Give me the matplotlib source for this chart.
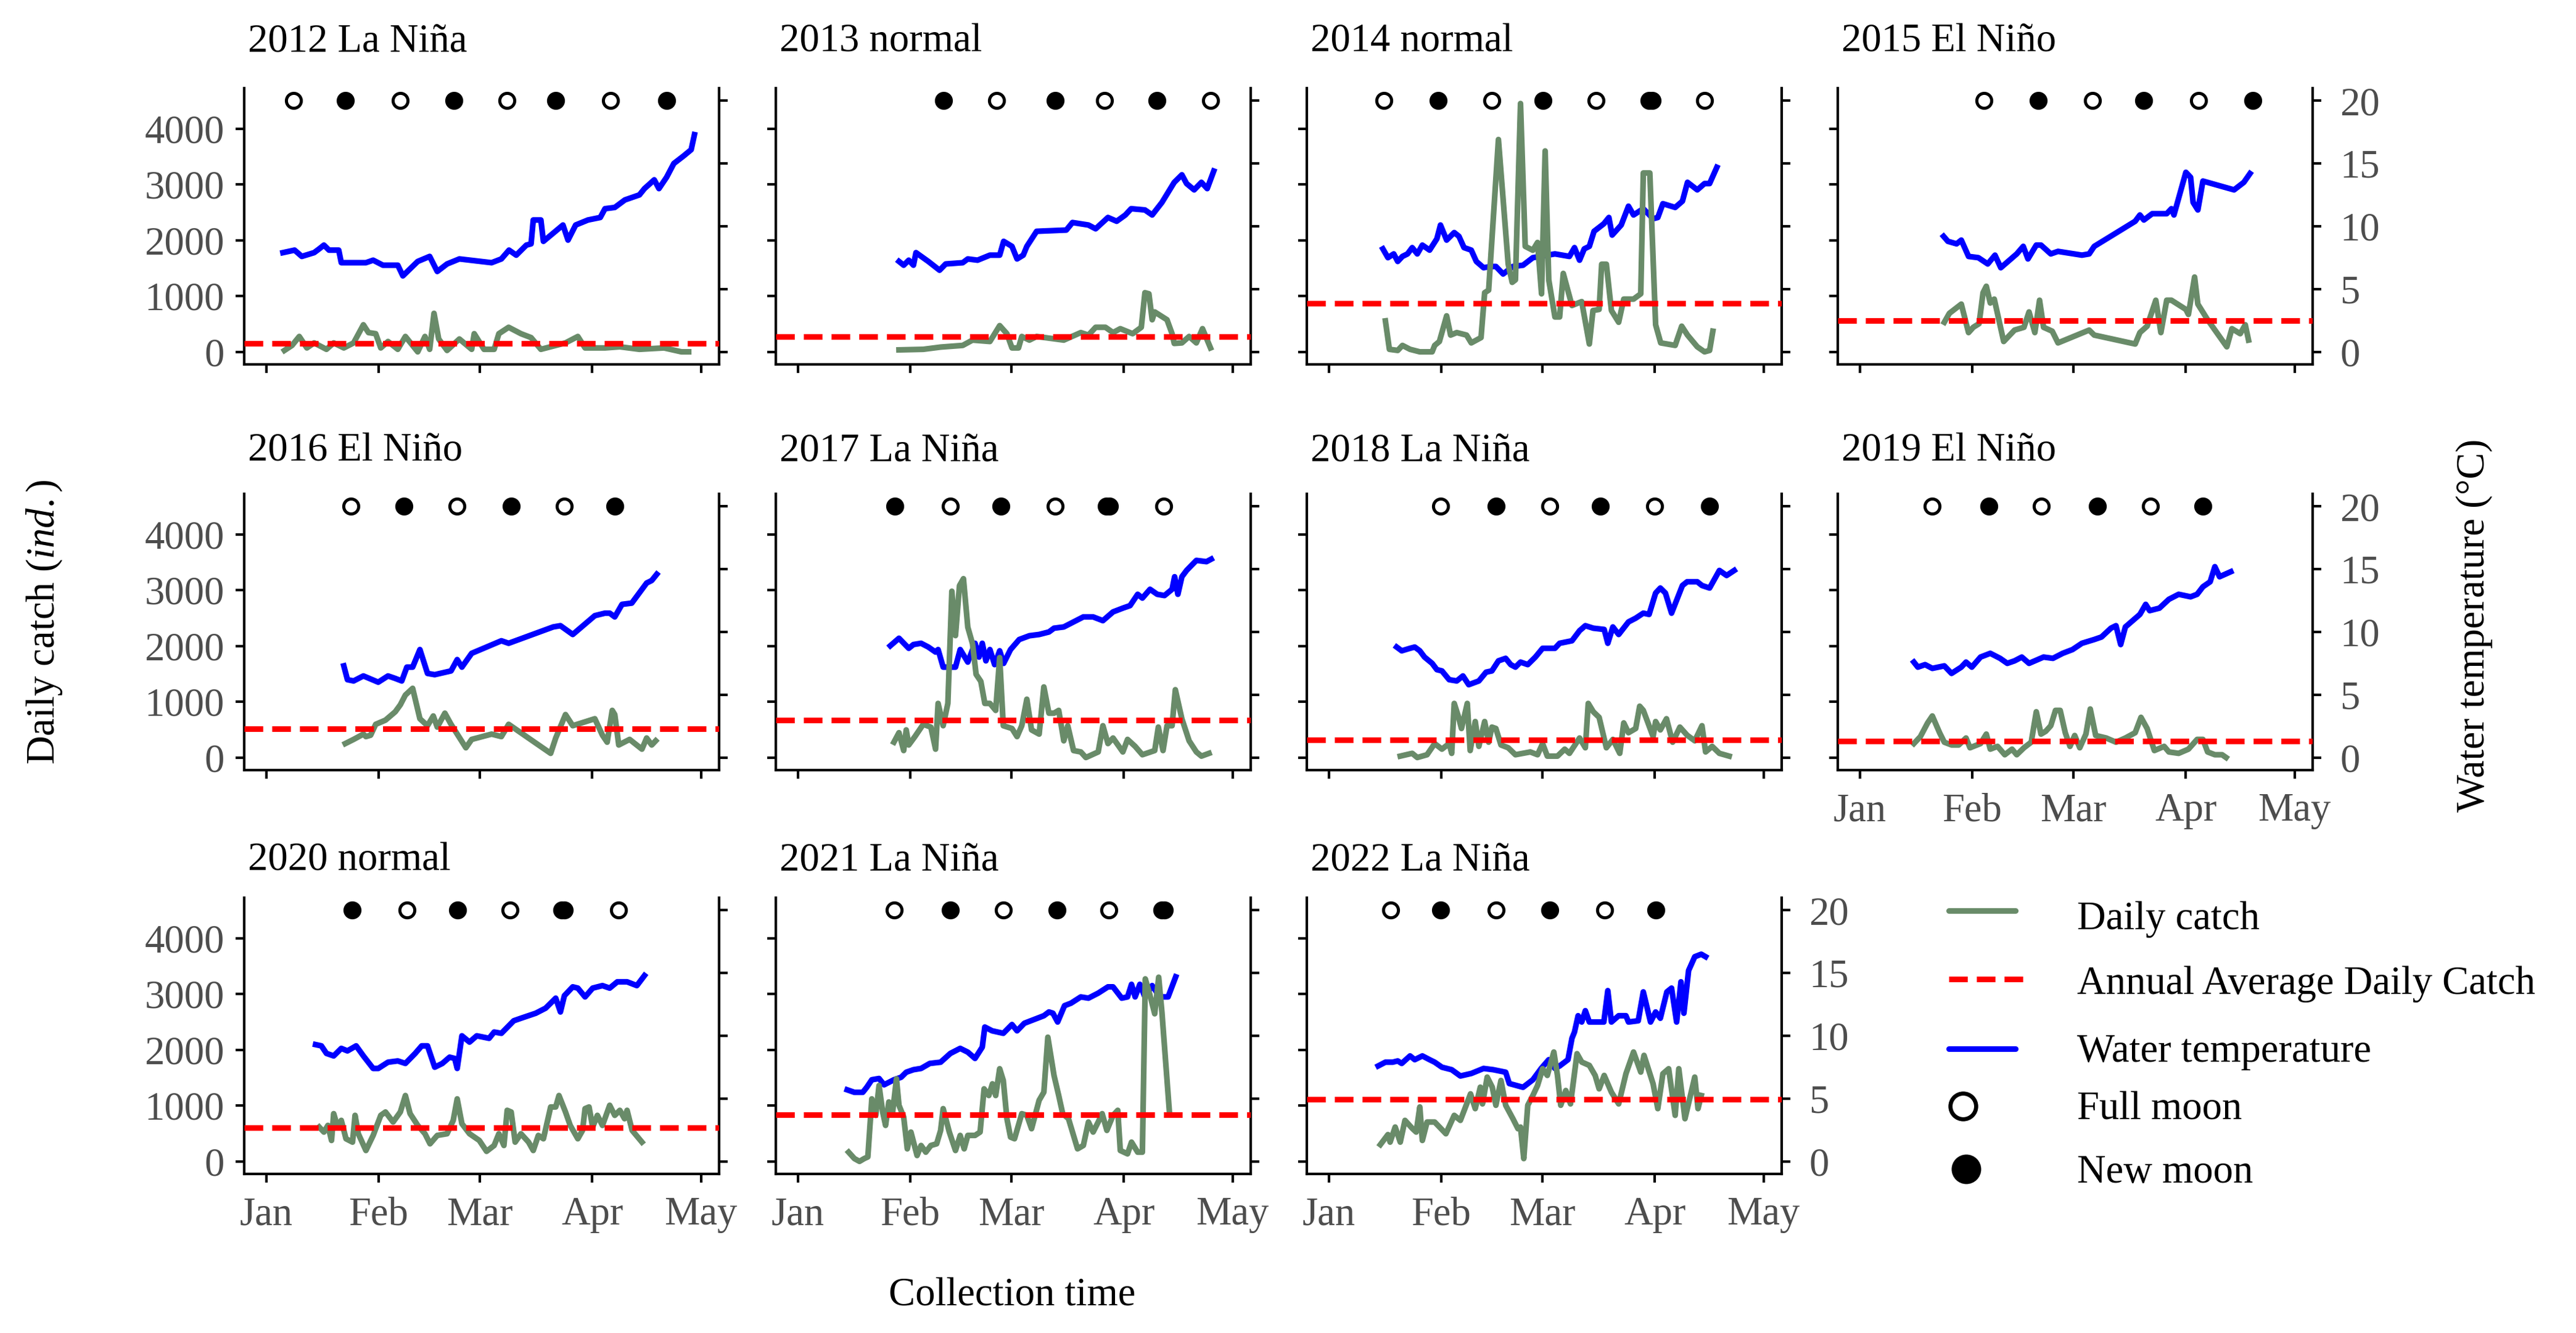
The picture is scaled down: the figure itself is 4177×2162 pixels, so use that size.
import matplotlib.pyplot as plt

plt.rcParams['font.family'] = ['Liberation Serif', 'DejaVu Serif']
plt.rcParams['mathtext.fontset'] = 'custom'
plt.rcParams['mathtext.rm'] = 'Liberation Serif'
plt.rcParams['mathtext.it'] = 'Liberation Serif:italic'

# ---- data (x = day counted from Jan 1, temperature in degC, catch in individuals) ----
years = [2012, 2013, 2014, 2015, 2016, 2017, 2018, 2019, 2020, 2021, 2022]
enso = ['La Niña', 'normal', 'normal', 'El Niño', 'El Niño', 'La Niña',
        'La Niña', 'El Niño', 'normal', 'La Niña', 'La Niña']
month_pos = [0, 31, 59, 90, 120]
month_lab = ['Jan', 'Feb', 'Mar', 'Apr', 'May']

temp_2012 = [(4.6, 7.9), (7.8, 8.1), (9.8, 7.6), (13.2, 7.9), (14.6, 8.2), (15.9, 8.5), (17.3, 8.1), (20, 8.1),
             (20.7, 7.1), (27.5, 7.1), (29.5, 7.3), (32.2, 6.9), (36.3, 6.9), (37.7, 6.05), (41.8, 7.2),
             (45.1, 7.6), (47.2, 6.4), (49.9, 7.0), (53.3, 7.4), (62.2, 7.1), (64.9, 7.4), (67, 8.1), (69, 7.7),
             (71.8, 8.5), (73.1, 8.6), (73.7, 10.5), (75.8, 10.5), (76.5, 8.8), (81.9, 10.1), (83.3, 8.9),
             (85.4, 10.1), (88.8, 10.5), (92.2, 10.7), (93.5, 11.4), (96.2, 11.5), (99, 12.1), (103, 12.5),
             (104.4, 13.0), (107.1, 13.7), (108.4, 13.0), (110.5, 13.9), (112.5, 15.0), (115.2, 15.6),
             (117.3, 16.1), (118.2, 17.3)]
catch_2012 = [(5, 25), (7.1, 115), (9.1, 275), (11.2, 70), (13.2, 160), (16.6, 45), (18.6, 160), (21.4, 70),
              (24.1, 160), (26.8, 485), (28.2, 345), (30.2, 325), (31.6, 70), (33.6, 185), (36.3, 45),
              (38.4, 275), (41.8, 0), (43.8, 275), (45.1, 45), (46.3, 690), (47.6, 230), (49.9, 25), (53.3, 230),
              (56.7, 45), (57.4, 325), (60.1, 45), (62.9, 45), (64.2, 325), (66.9, 440), (70.3, 325), (73.1, 255),
              (75.8, 45), (82.6, 160), (86, 275), (88, 70), (93.5, 70), (97.6, 90), (103, 45), (109.8, 70),
              (114.6, 0), (116.6, 0)]

temp_2013 = [(27.9, 7.2), (29.2, 6.9), (30.6, 7.3), (31.9, 6.9), (32.6, 7.9), (36, 7.2), (39.1, 6.5), (40.8, 7.0),
             (45.5, 7.1), (46.9, 7.4), (49.6, 7.3), (53, 7.7), (55.7, 7.7), (56.8, 8.8), (59.1, 8.4), (60.5, 7.4),
             (62.2, 7.7), (63.2, 8.4), (65.9, 9.6), (74.1, 9.7), (75.8, 10.3), (80.2, 10.1), (82.2, 9.8),
             (85.6, 10.7), (88, 10.4), (90.4, 10.9), (92, 11.4), (95.8, 11.3), (97.8, 10.9), (100.5, 11.9),
             (103.9, 13.5), (106, 14.1), (107.3, 13.4), (109.4, 12.9), (111.4, 13.5), (113, 13.0), (114.8, 14.4)]
catch_2013 = [(27.9, 35), (34.6, 45), (39.4, 85), (45.5, 115), (48.2, 210), (53, 185), (55.7, 470), (57.7, 325),
              (59.1, 70), (60.9, 70), (61.8, 275), (63.9, 210), (65.9, 275), (73.4, 210), (78.1, 345), (80.2, 300),
              (82.2, 440), (84.9, 440), (87, 345), (89, 415), (92.4, 325), (94.8, 440), (95.8, 1060), (96.9, 1040),
              (97.8, 575), (98.5, 715), (101.9, 575), (103.3, 325), (103.9, 150), (106, 160), (108, 275),
              (110, 160), (111.7, 415), (113.9, 70)]

temp_2014 = [(14.9, 8.2), (16.3, 7.5), (17.9, 7.8), (19, 7.2), (20.3, 7.6), (21.7, 7.8), (23, 8.3), (24.4, 7.8),
             (25.8, 8.5), (27.8, 8.1), (29.8, 9.0), (30.8, 10.1), (32.5, 8.9), (34.6, 9.5), (35.9, 9.2),
             (37.3, 8.3), (39.3, 8.1), (40.7, 7.2), (42.7, 6.7), (44.7, 6.8), (46.1, 6.8), (48.1, 6.2),
             (50.8, 6.8), (53.6, 6.9), (56.3, 7.5), (62.4, 7.8), (66.4, 7.6), (67.8, 8.3), (69.2, 7.3),
             (70.5, 8.2), (71.9, 8.4), (73.2, 9.6), (75.9, 10.2), (77.3, 10.7), (78.2, 9.3), (80.7, 10.1),
             (82.7, 11.6), (84.1, 10.9), (86.8, 11.4), (89.5, 10.6), (90.8, 10.7), (92.2, 11.8), (95.6, 11.5),
             (97.6, 12.0), (99, 13.5), (101.7, 12.9), (103.7, 13.4), (105.1, 13.4), (107.1, 14.7)]
catch_2014 = [(15.6, 555), (16.7, 45), (19, 25), (20.3, 115), (22.4, 45), (25.1, 0), (28.5, 0), (29.2, 115),
              (30.5, 185), (32.5, 645), (33.6, 300), (35.3, 345), (38, 300), (39.3, 160), (42, 255), (43, 1060),
              (44.1, 1105), (46.8, 3805), (49.5, 1570), (50.6, 1245), (51.5, 1290), (52.9, 4450), (54.2, 1890),
              (56.3, 1820), (57.6, 1960), (58.7, 1040), (59.7, 3600), (60.7, 1290), (62.4, 625), (63.7, 625),
              (64.7, 1405), (67.1, 830), (69.8, 900), (71.9, 140), (72.9, 740), (74.6, 760), (75.3, 1570),
              (76.6, 1570), (78, 740), (80, 530), (81.4, 945), (84.1, 945), (86.1, 1040), (86.8, 3205),
              (88.6, 3205), (90.2, 485), (91.6, 160), (95.6, 115), (97.4, 460), (99, 300), (101.7, 90),
              (103.7, 0), (105.1, 25), (106, 370)]

temp_2015 = [(23.1, 9.2), (24.3, 8.8), (26.7, 8.6), (28, 8.9), (30, 7.6), (32.7, 7.5), (35.3, 7.0), (37.3, 7.7),
             (38.9, 6.7), (43.3, 7.8), (45.1, 8.4), (46.4, 7.4), (48.7, 8.5), (50, 8.5), (52.7, 7.8), (54.7, 8.0),
             (61.3, 7.7), (63.3, 7.8), (64.7, 8.4), (76, 10.4), (77.3, 10.9), (78.4, 10.5), (80.7, 11.0),
             (84.7, 11.0), (86, 11.4), (86.7, 10.9), (90, 14.3), (91.3, 13.9), (92, 11.9), (93.3, 11.3),
             (94.7, 13.6), (103.3, 12.9), (106, 13.5), (107.7, 14.2)]
catch_2015 = [(23.3, 530), (24.7, 690), (28, 855), (30, 345), (31.3, 440), (32.9, 505), (34, 1060), (34.9, 1175),
              (36, 875), (37.1, 945), (39.7, 185), (42.7, 390), (45.3, 440), (46.7, 715), (48.3, 345),
              (49.6, 925), (50.7, 440), (53.1, 370), (54.7, 160), (63.3, 390), (64.7, 300), (76, 140),
              (77.3, 345), (79.3, 460), (81.7, 925), (83.1, 345), (84.7, 925), (86, 925), (90, 760), (90.7, 670),
              (92.4, 1340), (93.3, 855), (96, 575), (101.3, 90), (102.7, 415), (105, 325), (106.4, 485),
              (107.3, 210)]

temp_2016 = [(21.4, 7.3), (22.4, 6.2), (24.1, 6.1), (26.8, 6.5), (30.9, 6.0), (33.6, 6.5), (35.6, 6.3),
             (37.4, 6.1), (38.8, 7.2), (40.4, 7.2), (42.4, 8.6), (44.5, 6.7), (46.5, 6.6), (51, 6.9), (52.7, 7.8),
             (54, 7.2), (56.7, 8.3), (64.9, 9.3), (66.9, 9.1), (79.2, 10.4), (81.2, 10.5), (84.6, 9.8),
             (90.7, 11.3), (93.5, 11.5), (94.8, 11.5), (96.2, 11.2), (98.2, 12.2), (100.9, 12.3), (105, 13.9),
             (106.4, 14.1), (107.8, 14.6)]
catch_2016 = [(21.8, 250), (24.1, 325), (26.8, 420), (27.5, 375), (28.8, 400), (30.2, 595), (32.9, 670),
              (35.6, 820), (37, 945), (38.4, 1120), (40.4, 1240), (42.4, 695), (44.5, 570), (46.1, 745),
              (47.2, 545), (49.3, 795), (51, 595), (52.9, 400), (55.1, 175), (56.7, 325), (62.2, 420),
              (64.9, 375), (66.9, 595), (78.5, 75), (79.9, 350), (82.6, 770), (84.6, 570), (90.7, 695),
              (92.8, 400), (94.1, 275), (95.5, 845), (96.2, 770), (97.3, 225), (100.3, 325), (103.7, 150),
              (105, 350), (106.4, 225), (107.5, 300)]

temp_2017 = [(25.5, 8.9), (27.9, 9.5), (30.6, 8.7), (31.9, 9.0), (34, 9.1), (36, 8.8), (38, 8.4), (38.7, 8.6),
             (40.1, 7.2), (43.5, 7.2), (44.8, 8.6), (46.9, 7.6), (48.9, 9.1), (50, 8.0), (50.9, 9.1), (51.9, 7.7),
             (53, 8.6), (54.3, 7.4), (55.7, 8.5), (56.8, 7.5), (58.7, 8.6), (61.1, 9.4), (63.9, 9.7), (66.6, 9.8),
             (69.3, 10.0), (70.7, 10.3), (73.4, 10.4), (76.1, 10.8), (78.8, 11.2), (81.5, 11.2), (84.2, 10.9),
             (87, 11.6), (89.7, 11.9), (91.7, 12.1), (93.8, 13.0), (95.1, 12.7), (97.2, 13.4), (99.2, 13.0),
             (101.2, 12.9), (103.3, 13.4), (104, 14.4), (104.9, 13.0), (106, 14.4), (107.3, 14.9), (110, 15.7),
             (112.8, 15.6), (114.1, 15.8)]
catch_2017 = [(26.5, 275), (27.9, 445), (29.2, 125), (29.9, 495), (30.6, 225), (32.3, 375), (34.6, 595),
              (36.7, 545), (38, 150), (38.7, 970), (40.1, 570), (41.4, 970), (42.5, 2980), (43.5, 2185),
              (44.6, 3080), (45.7, 3205), (46.9, 2335), (48.2, 2040), (49.2, 1490), (50.5, 1365), (51.6, 970),
              (53, 970), (54.6, 845), (55.7, 1790), (56.7, 570), (59.1, 520), (60.5, 375), (61.8, 570),
              (63.2, 1045), (64.5, 495), (66.6, 420), (67.9, 1265), (69.3, 795), (70.7, 795), (72, 845),
              (73.4, 300), (74.5, 570), (76.1, 125), (78.1, 100), (79.5, 0), (82.9, 100), (84.2, 570),
              (85.6, 250), (87, 350), (89.7, 100), (91, 325), (93.1, 200), (95.1, 50), (98.5, 125), (99.5, 545),
              (100.8, 125), (101.9, 570), (103.3, 570), (104.2, 1215), (106, 695), (108, 300), (110, 100),
              (111.4, 25), (113.5, 75)]

temp_2018 = [(18.7, 8.8), (20.1, 8.5), (22.4, 8.7), (23.7, 8.8), (25.1, 8.5), (26.4, 8.0), (28.5, 7.5),
             (29.8, 7.0), (31.2, 6.9), (33.2, 6.2), (35.3, 6.1), (37, 6.5), (38.6, 5.8), (41.4, 6.1), (43.4, 6.8),
             (45, 6.9), (46.8, 7.7), (48.8, 7.9), (50.2, 7.4), (51.5, 7.2), (52.9, 7.6), (54.9, 7.4), (57, 8.0),
             (59, 8.7), (62.4, 8.7), (63.7, 9.1), (67.1, 9.3), (69.2, 10.1), (70.8, 10.5), (73, 10.3), (76, 10.2),
             (77, 9.1), (78.4, 10.4), (80, 9.8), (82.7, 10.8), (84.7, 11.1), (86.8, 11.5), (88.4, 11.4),
             (90.2, 13.1), (91.5, 13.5), (92.9, 13.1), (94.6, 11.5), (97.6, 13.7), (98.9, 14.0), (101.7, 14.0),
             (103, 13.7), (105.1, 13.5), (107.8, 14.9), (109.8, 14.5), (111.9, 14.9)]
catch_2018 = [(19.7, 25), (23, 75), (24.4, 0), (27.1, 50), (29.2, 250), (31.2, 150), (33.2, 250), (33.9, 75),
              (34.6, 970), (35.7, 745), (36.6, 520), (38.2, 970), (39, 125), (40.4, 645), (41.4, 200), (43, 645),
              (44.1, 275), (45, 545), (46.1, 520), (47.5, 225), (49.5, 175), (51.5, 50), (55.6, 100), (57.6, 50),
              (59, 250), (60.3, 25), (63.1, 25), (65.1, 150), (66.4, 75), (69.2, 350), (70.8, 175), (71.6, 970),
              (73, 820), (74.6, 720), (76.6, 175), (78.4, 325), (80.3, 75), (81.4, 620), (82.7, 445), (84.7, 520),
              (85.8, 920), (86.8, 845), (88.1, 620), (89.5, 375), (90.2, 645), (91.5, 495), (93.2, 695),
              (94.9, 275), (96.9, 545), (98.9, 400), (101, 300), (103, 570), (104, 100), (105.8, 200),
              (107.8, 75), (110.5, 25)]

temp_2019 = [(14.9, 7.6), (16, 7.2), (18, 7.4), (20, 7.1), (23.3, 7.3), (25.3, 6.7), (28, 7.2), (29.3, 7.6),
             (30.9, 7.2), (33.3, 8.0), (36, 8.3), (38.7, 7.9), (40.7, 7.5), (42.7, 7.7), (44.7, 8.0), (46.7, 7.5),
             (50.7, 8.0), (53.3, 7.9), (56, 8.3), (58.7, 8.6), (61.3, 9.1), (64.7, 9.4), (66.7, 9.6), (69.3, 10.3),
             (70.7, 10.5), (72, 9.0), (73.3, 10.4), (75.3, 10.9), (77.3, 11.4), (78.9, 12.2), (80, 11.7),
             (82.7, 11.9), (85.3, 12.6), (88, 13.0), (91.3, 12.8), (93.1, 13.0), (94.7, 13.6), (96.7, 14.0),
             (98, 15.2), (99.3, 14.4), (102.4, 14.8)]
catch_2019 = [(14.9, 250), (16.7, 375), (18.7, 620), (20, 745), (22, 445), (23.3, 275), (25.3, 225), (27.3, 225),
              (29.3, 350), (30.4, 175), (33.3, 250), (34.9, 420), (36, 150), (38, 200), (40, 50), (42, 150),
              (43.3, 50), (45.3, 175), (47.3, 275), (48.7, 820), (50, 420), (51.3, 470), (52.7, 570), (54, 845),
              (55.3, 845), (56.7, 445), (58, 200), (59.3, 395), (60.7, 175), (62.4, 420), (63.6, 870),
              (65.1, 395), (68, 350), (70.7, 275), (73.3, 350), (76, 445), (77.6, 720), (79.3, 520), (81.3, 125),
              (84, 200), (85.3, 100), (88, 75), (90.7, 150), (93.1, 325), (94.7, 325), (96, 100), (98, 50),
              (100, 50), (101.1, 0)]

temp_2020 = [(13.6, 9.3), (15.2, 9.2), (16.6, 8.6), (18.6, 8.4), (20.7, 9.0), (22.4, 8.8), (24.8, 9.2),
             (26.8, 8.4), (29.5, 7.4), (30.9, 7.4), (33.6, 7.9), (36.3, 8.0), (38.4, 7.8), (41.1, 8.6),
             (42.9, 9.2), (44.5, 9.2), (46.5, 7.5), (48.6, 7.8), (50.6, 8.3), (52, 8.2), (52.7, 7.4), (54, 10.0),
             (56.1, 9.5), (58.1, 10.0), (61.5, 9.8), (62.9, 10.3), (64.9, 10.2), (68.3, 11.2), (70.3, 11.4),
             (74.4, 11.8), (77.1, 12.2), (79.9, 13.0), (81.2, 11.9), (82.3, 13.2), (84.6, 13.9), (86, 13.8),
             (88, 13.1), (90.1, 13.8), (92.8, 14.0), (94.8, 13.8), (96.9, 14.3), (99.6, 14.3), (102.3, 14.0),
             (104.4, 14.8)]
catch_2020 = [(14.6, 615), (15.9, 525), (17, 645), (18, 375), (18.6, 855), (19.7, 615), (20.7, 735), (22, 405),
              (23.8, 345), (24.5, 825), (25.4, 495), (27.5, 195), (29.5, 465), (31.6, 825), (32.9, 885), (35, 705),
              (37, 885), (38.4, 1180), (39.7, 855), (41.8, 645), (43.8, 495), (45.2, 315), (47.2, 465),
              (49.9, 495), (51.6, 735), (52.7, 1120), (54, 675), (56.1, 495), (58.8, 375), (60.8, 180),
              (62.9, 285), (64.2, 495), (65.6, 285), (66.5, 915), (67.6, 885), (68.7, 345), (70.3, 495),
              (72.4, 345), (73.7, 195), (75.1, 465), (76.5, 405), (78.5, 975), (79.9, 975), (80.8, 1180),
              (82.6, 885), (83.9, 645), (86, 405), (87.3, 555), (88, 945), (89.1, 975), (90.1, 615), (91.4, 825),
              (92.8, 645), (94.8, 1005), (96.2, 825), (97.6, 915), (98.9, 765), (99.6, 915), (101, 555),
              (103.7, 345)]

temp_2021 = [(13.6, 5.7), (15.6, 5.5), (17.9, 5.5), (19, 5.9), (20.4, 6.5), (22.4, 6.6), (23.8, 6.1), (26.5, 6.5),
             (28.5, 6.7), (29.9, 7.1), (31.9, 7.3), (34, 7.4), (36.4, 7.8), (39.4, 7.9), (42.1, 8.6), (44.8, 9.0),
             (46.9, 8.7), (48.9, 8.2), (50.9, 9.1), (51.6, 10.7), (53.6, 10.4), (56.7, 10.2), (59.1, 10.9),
             (60.5, 10.4), (62.5, 11.0), (65.2, 11.3), (67.9, 11.6), (69.3, 11.9), (70.4, 11.8), (71.7, 11.1),
             (73.6, 12.4), (75.4, 12.6), (78.1, 13.1), (80.2, 13.0), (82.9, 13.4), (85.6, 13.9), (87, 13.9),
             (89.4, 13.0), (91, 13.1), (92.1, 14.1), (93.1, 13.1), (94.4, 14.1), (95.8, 13.1), (97.8, 14.0),
             (99.9, 13.1), (102.2, 13.1), (104.3, 14.7)]
catch_2021 = [(14, 165), (15.6, 50), (17, 0), (18.3, 50), (19.3, 80), (20.4, 1120), (21.5, 825), (22.4, 1360),
              (23.4, 885), (24.2, 645), (25.1, 1065), (26.1, 855), (27.2, 1480), (27.9, 1005), (29.2, 795),
              (30.2, 225), (31.2, 525), (32.9, 105), (34, 285), (35.3, 165), (36.7, 285), (38.3, 315), (39.4, 555),
              (40.1, 945), (41.8, 525), (43.5, 195), (44.8, 465), (45.9, 225), (46.9, 465), (48.9, 465),
              (50.3, 525), (51.4, 1300), (52.7, 1180), (53.7, 1390), (54.6, 1180), (55.7, 1660), (56.7, 1450),
              (57.7, 765), (58.7, 435), (59.8, 405), (61.8, 855), (63.2, 825), (64.5, 585), (66.6, 1095),
              (67.9, 1240), (69, 2225), (70.7, 1540), (72, 1180), (73.1, 855), (74.7, 765), (77.2, 225),
              (78.8, 285), (80.2, 705), (81.5, 525), (82.9, 705), (84, 855), (85.3, 555), (87, 825), (88.3, 915),
              (89, 195), (91, 135), (92.1, 345), (93.8, 165), (95.1, 165), (95.3, 945), (95.9, 3270), (97.1, 3000),
              (98.5, 2645), (99.6, 3300), (100.5, 2670), (102.6, 855)]

temp_2022 = [(13.6, 7.6), (15.6, 7.9), (17.6, 7.9), (19, 8.0), (20.1, 7.8), (22.4, 8.4), (23.7, 8.1), (25.8, 8.4),
             (27.8, 8.1), (29.2, 7.9), (31.2, 7.5), (33.9, 7.3), (36.3, 6.8), (39.3, 7.0), (42.7, 7.4), (45.4, 7.3),
             (48.8, 7.1), (49.8, 6.2), (53.6, 5.9), (56.3, 6.5), (58.6, 7.4), (60.7, 8.1), (62.4, 7.4), (63.7, 7.6),
             (66, 8.1), (67.1, 9.8), (67.8, 10.3), (68.8, 11.6), (69.8, 11.1), (70.8, 12.0), (71.9, 11.1),
             (75.9, 11.1), (77, 13.6), (78, 11.1), (80, 11.6), (82, 11.6), (82.7, 11.1), (85.4, 11.2), (86.8, 13.5),
             (88.8, 11.1), (90.2, 11.9), (91.5, 11.4), (93.3, 13.5), (94.6, 13.8), (96, 11.1), (97.2, 14.3),
             (98, 11.8), (99.3, 15.2), (101, 16.3), (102.8, 16.5), (104, 16.3)]
catch_2022 = [(14.2, 300), (16.3, 480), (16.9, 345), (18.3, 615), (19.7, 345), (21, 735), (23.1, 585), (24.1, 525),
              (25.1, 975), (25.8, 375), (27.1, 705), (29.2, 705), (32.3, 495), (34.6, 825), (36.3, 735),
              (39.1, 1210), (40.4, 945), (41.8, 1330), (42.4, 1030), (43.7, 1510), (45.1, 1330), (46.1, 1005),
              (47.5, 1450), (48.8, 1005), (50.8, 765), (52.2, 585), (52.9, 615), (53.8, 50), (54.9, 1005),
              (56.3, 1180), (57.6, 1360), (59, 1660), (60.3, 1540), (62.1, 1960), (63.1, 1540), (64, 1005),
              (65.4, 1270), (66.7, 1030), (68.5, 1930), (69.8, 1780), (71.9, 1720), (73.5, 1540), (74.6, 1300),
              (76, 1540), (78, 1240), (80, 1030), (82, 1570), (84.1, 1960), (86.1, 1600), (87, 1900), (89.5, 1390),
              (90.8, 945), (92.2, 1570), (93.8, 1660), (95.6, 825), (96.6, 1660), (98.3, 765), (101, 1510),
              (101.9, 945), (102.8, 1180)]

avg_catch = [150, 270, 870, 555, 510, 670, 320, 295, 600, 840, 1115]

full_moon = {2012: [7.6, 37, 66.5, 95.1], 2013: [54.8, 84.6, 114], 2014: [15.2, 45, 73.8, 103.7],
             2015: [34.3, 64.3, 93.5], 2016: [23.4, 52.7, 82.2], 2017: [42, 71.1, 101],
             2018: [30.9, 60.9, 89.9], 2019: [20, 50.1, 80.3], 2020: [38.8, 67.3, 97.3],
             2021: [26.6, 56.8, 85.9], 2022: [17.1, 46.1, 76.2]}
new_moon = {2012: [21.8, 51.8, 79.9, 110.6], 2013: [40.2, 71.1, 99.2], 2014: [30.1, 59.1, 88.4, 89.2],
            2015: [49.3, 78.4, 108.4], 2016: [38, 67.6, 96.2], 2017: [26.8, 56, 85.2, 86],
            2018: [46.2, 75, 105.1], 2019: [35.6, 65.6, 94.7], 2020: [23.7, 52.8, 81.5, 82.3],
            2021: [42.1, 71.5, 100.4, 101.2], 2022: [30.9, 61, 90.2]}

temps = dict(zip(years, [temp_2012, temp_2013, temp_2014, temp_2015, temp_2016, temp_2017,
                         temp_2018, temp_2019, temp_2020, temp_2021, temp_2022]))
catches = dict(zip(years, [catch_2012, catch_2013, catch_2014, catch_2015, catch_2016, catch_2017,
                           catch_2018, catch_2019, catch_2020, catch_2021, catch_2022]))

# ---- style ----
W, H, DPI = 4177, 2162, 300
FS = 15.5
GREY = '#4D4D4D'
GREEN = '#698B69'
SCALE = 225          # 1 degC on the right axis = 225 ind. on the left axis
MOON_Y = 4500
LW = 2.2
DASH = (0, (3.3, 1.6))

fig = plt.figure(figsize=(W / DPI, H / DPI), dpi=DPI)


def px_axes(left, top, w, h):
    return fig.add_axes([left / W, 1 - (top + h) / H, w / W, h / H])


def fig_text(x, y, s, **kw):
    return fig.text(x / W, 1 - y / H, s, **kw)


col_left = [396, 1258, 2119, 2980]
row_top = [143, 801, 1456]
title_base = [83, 747, 1411]
pw, ph = 770, 448

for i, yr in enumerate(years):
    r, c = divmod(i, 4)
    ax = px_axes(col_left[c], row_top[r], pw, ph)
    td = [p[0] for p in temps[yr]]
    tv = [p[1] * SCALE for p in temps[yr]]
    cd = [p[0] for p in catches[yr]]
    cv = [p[1] for p in catches[yr]]
    ax.plot(td, tv, color='blue', lw=LW, solid_joinstyle='round', zorder=2)
    ax.plot(cd, cv, color=GREEN, lw=LW, solid_joinstyle='round', zorder=3)
    ax.axhline(avg_catch[i], color='red', lw=LW, ls=DASH, zorder=4)
    ax.plot(full_moon[yr], [MOON_Y] * len(full_moon[yr]), 'o', ls='none', mfc='white',
            mec='black', ms=5.8, mew=1.2, zorder=5)
    ax.plot(new_moon[yr], [MOON_Y] * len(new_moon[yr]), 'o', ls='none', color='black',
            ms=7, mew=0, zorder=5)

    ax.set_xlim(-6.1, 125)
    ax.set_ylim(-225, 4725)
    ax.set_xticks(month_pos)
    ax.set_xticklabels(month_lab)
    ax.set_yticks([0, 1000, 2000, 3000, 4000])
    ax.spines['top'].set_visible(False)
    ax.spines['right'].set_visible(False)
    for s in ['left', 'bottom']:
        ax.spines[s].set_linewidth(1.0)
    ax.tick_params(axis='both', length=3.3, width=1.0, color='black',
                   labelsize=FS, labelcolor=GREY)
    ax.tick_params(axis='y', pad=4.4)
    ax.tick_params(axis='x', pad=5.5)

    sec = ax.secondary_yaxis('right', functions=(lambda y: y / SCALE, lambda t: t * SCALE))
    sec.set_yticks([0, 5, 10, 15, 20])
    sec.spines['right'].set_linewidth(1.0)
    sec.tick_params(length=3.3, width=1.0, labelsize=FS, labelcolor=GREY, pad=7.3)

    if c != 0:
        ax.tick_params(axis='y', labelleft=False)
    if not (c == 3 or yr == years[-1]):
        sec.tick_params(labelright=False)
    if not (r == 2 or (r == 1 and c == 3)):
        ax.tick_params(axis='x', labelbottom=False)

    fig_text(col_left[c] + 6, title_base[r], f'{yr} {enso[i]}', fontsize=FS,
             ha='left', va='baseline', color='black')

# axis titles
fig_text(72, 1009, r'Daily catch ($\it{ind.}$)', fontsize=FS, rotation=90, ha='center', va='center')
fig_text(4012, 1014, 'Water temperature (°C)', fontsize=FS, rotation=90, ha='center', va='center')
fig_text(1641, 2118, 'Collection time', fontsize=FS, ha='center', va='baseline')

# legend, drawn on a transparent overlay in pixel coordinates
lax = fig.add_axes([0, 0, 1, 1])
lax.set_xlim(0, W)
lax.set_ylim(H, 0)
lax.axis('off')
lax.patch.set_visible(False)
leg_y = [1477, 1588, 1701, 1794, 1896]
leg_base = [1507, 1612, 1722, 1816, 1918]
leg_lab = ['Daily catch', 'Annual Average Daily Catch', 'Water temperature', 'Full moon', 'New moon']
lax.plot([3160, 3268], [leg_y[0]] * 2, color=GREEN, lw=LW, solid_capstyle='round')
lax.plot([3160, 3284], [leg_y[1]] * 2, color='red', lw=LW, ls=DASH)
lax.plot([3160, 3268], [leg_y[2]] * 2, color='blue', lw=LW, solid_capstyle='round')
lax.plot([3183], [leg_y[3]], 'o', mfc='white', mec='black', ms=10, mew=1.6)
lax.plot([3188], [leg_y[4]], 'o', color='black', ms=11.5, mew=0)
for y, lab in zip(leg_base, leg_lab):
    lax.text(3368, y, lab, fontsize=FS, ha='left', va='baseline', color='black')

fig.savefig('out.png', dpi=DPI)
